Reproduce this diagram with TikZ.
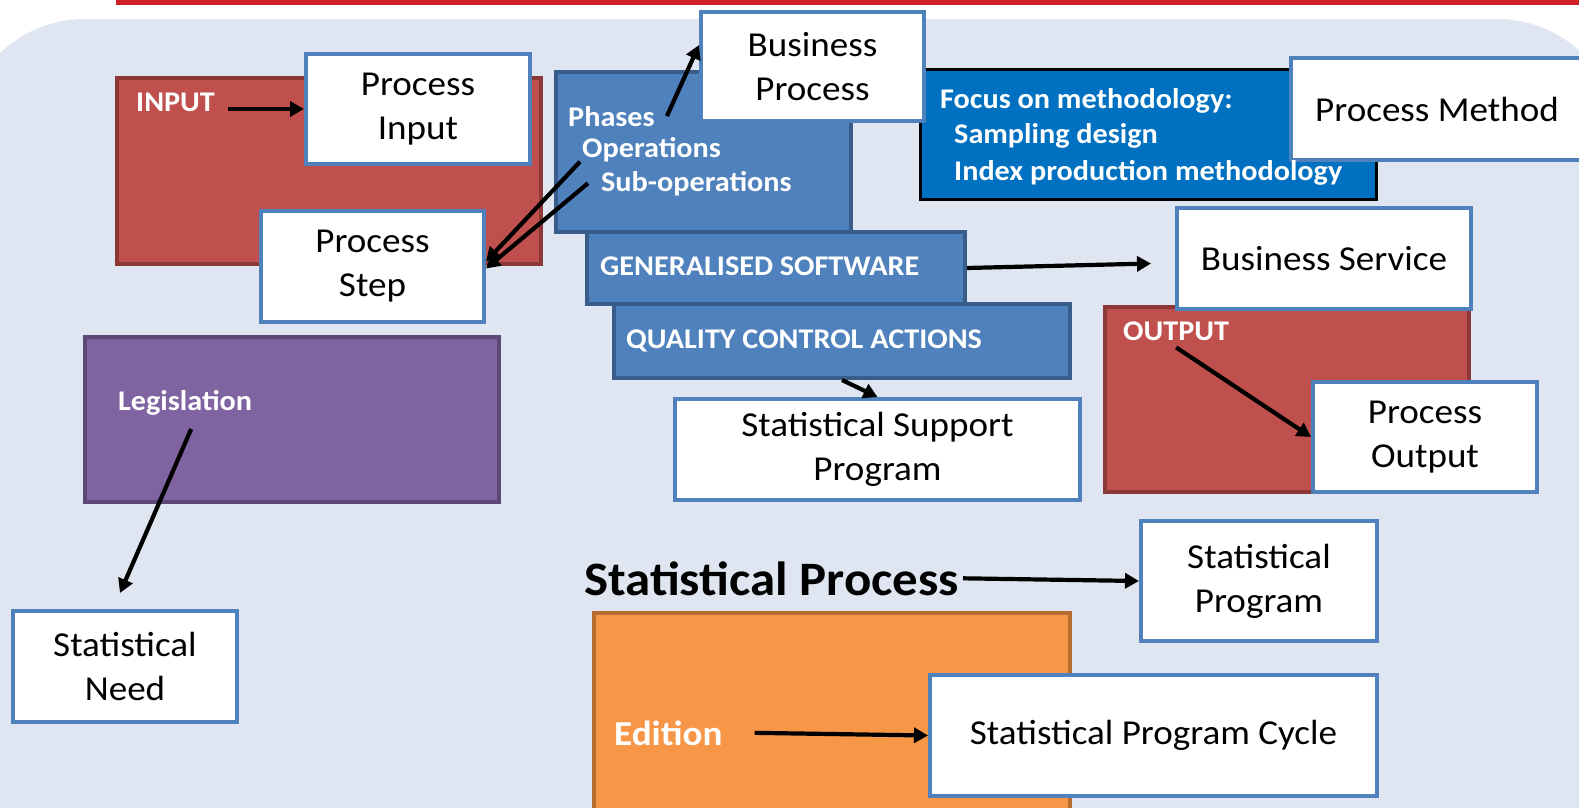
\documentclass[tikz,border=0pt]{standalone}
\usepackage{fontspec}
\setmainfont{Carlito}[FakeStretch=1.06]
\usetikzlibrary{arrows.meta}
\definecolor{bgc}{HTML}{DFE6F1}
\definecolor{topred}{HTML}{D11F26}
\definecolor{boxblue}{HTML}{4F81BD}
\definecolor{blueline}{HTML}{385D8A}
\definecolor{redfill}{HTML}{C0504D}
\definecolor{redline}{HTML}{8C3836}
\definecolor{focusblue}{HTML}{0070C0}
\definecolor{purfill}{HTML}{8064A2}
\definecolor{purline}{HTML}{5C4776}
\definecolor{orfill}{HTML}{F79646}
\definecolor{orline}{HTML}{B66D31}
\begin{document}
\begin{tikzpicture}[x=1pt,y=-1pt,
  wbox/.style={draw=boxblue, line width=4pt, fill=white, inner sep=0pt, align=center, anchor=north west, font=\fontsize{35}{44}\selectfont},
  cbox/.style={line width=4pt, inner sep=0pt, anchor=north west},
  wlbl/.style={text=white, inner sep=0pt, anchor=base west, font=\bfseries\fontsize{28.5}{34}\selectfont},
  arr/.style={draw=black, line width=4.2pt, -{Triangle[length=14pt,width=15pt]}},
]
\useasboundingbox (0,0) rectangle (1579,807);
\clip (0,0) rectangle (1579,807);
\fill[topred] (116,0) rectangle (1579,5);
\fill[bgc, rounded corners=123pt] (-38,19) rectangle (1620,950);

% coloured boxes
\node[cbox, fill=redfill, draw=redline, minimum width=424pt, minimum height=186pt] (inbox) at (115,76) {};
\node[cbox, fill=purfill, draw=purline, minimum width=414pt, minimum height=165pt] (legis) at (83,335) {};
\node[cbox, fill=boxblue, draw=blueline, minimum width=295pt, minimum height=160pt] (phases) at (554,70) {};
\node[cbox, fill=boxblue, draw=blueline, minimum width=378pt, minimum height=72pt] (gen) at (585,230) {};
\node[cbox, fill=boxblue, draw=blueline, minimum width=456pt, minimum height=74pt] (qca) at (612,302) {};
\node[cbox, fill=focusblue, draw=black, line width=2.5pt, minimum width=456pt, minimum height=130pt] (focus) at (919,68) {};
\node[cbox, fill=redfill, draw=redline, minimum width=364pt, minimum height=185pt] (outbox) at (1103,305) {};
\node[cbox, fill=orfill, draw=orline, minimum width=476pt, minimum height=230pt] (edbox) at (592,611) {};

% white boxes
\node[wbox, minimum width=224pt, minimum height=110pt] (pin) at (304,52) {Process\\Input};
\node[wbox, minimum width=223pt, minimum height=111pt] (pstep) at (259,209) {Process\\Step};
\node[wbox, minimum width=223pt, minimum height=109pt] (bp) at (699,10) {Business\\Process};
\node[wbox, minimum width=292pt, minimum height=102pt] (pm) at (1289,56) {Process Method};
\node[wbox, minimum width=294pt, minimum height=101pt] (bs) at (1175,206) {Business Service};
\node[wbox, minimum width=405pt, minimum height=101pt] (ssp) at (673,397) {Statistical Support\\Program};
\node[wbox, minimum width=224pt, minimum height=110pt] (po) at (1311,380) {Process\\Output};
\node[wbox, minimum width=224pt, minimum height=111pt] (sn) at (11,609) {Statistical\\Need};
\node[wbox, minimum width=236pt, minimum height=120pt] (sprog) at (1139,519) {Statistical\\Program};
\node[wbox, minimum width=447pt, minimum height=121pt] (spc) at (928,673) {Statistical Program Cycle};

% labels
\node[wlbl] (inlbl) at (136,111) {INPUT};
\node[wlbl] (phlbl) at (568,126) {Phases};
\node[wlbl] (oplbl) at (582,157) {Operations};
\node[wlbl] (sublbl) at (601,191) {Sub-operations};
\node[wlbl] (genlbl) at (600,275) {GENERALISED SOFTWARE};
\node[wlbl] (qclbl) at (626,348) {QUALITY CONTROL ACTIONS};
\node[wlbl] (f1) at (940,108) {Focus on methodology:};
\node[wlbl] (f2) at (954,143) {Sampling design};
\node[wlbl] (f3) at (954,180) {Index production methodology};
\node[wlbl] (outlbl) at (1123,340) {OUTPUT};
\node[wlbl] (leglbl) at (118,410) {Legislation};
\node[wlbl, font=\bfseries\fontsize{35}{40}\selectfont] (edlbl) at (614,745) {Edition};
\node[inner sep=0pt, anchor=base west, font=\bfseries\fontsize{48}{50}\selectfont] (splbl) at (584,595) {Statistical Process};

% arrows
\path (inlbl.east) ++(13,0) coordinate (inA);
\draw[arr] (inA |- pin.west) -- (pin.west);
\draw[arr] ([xshift=12pt]phlbl.east) -- ([yshift=-35pt]bp.north west);
\draw[arr] ([xshift=-2pt]oplbl.south west) -- ([yshift=5pt]pstep.east);
\draw[arr] ([xshift=-13pt]sublbl.west) -- ([yshift=-2pt]pstep.east);
\draw[arr] (gen.east) -- ([xshift=-24pt,yshift=-5pt]bs.west);
\draw[arr] (qca.south) -- (ssp.north);
\draw[arr] ([yshift=-7pt]outlbl.south) -- (po.west);
\draw[arr] ([xshift=6pt,yshift=-14pt]leglbl.south) -- ([xshift=-5pt,yshift=16pt]sn.north);
\draw[arr] ([xshift=4pt]splbl.east) -- (sprog.west);
\draw[arr] ([xshift=32pt]edlbl.east) -- (spc.west);
\end{tikzpicture}
\end{document}
